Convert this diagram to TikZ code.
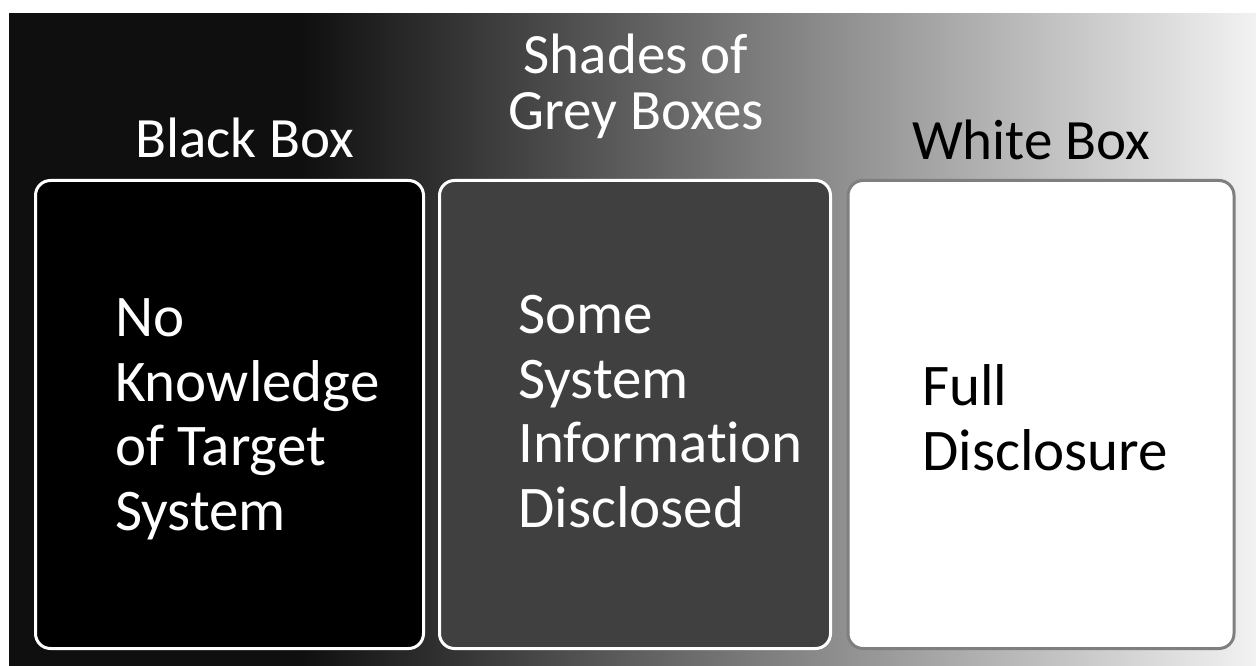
\documentclass[tikz,border=0pt]{standalone}
\usepackage{fontspec}
\setmainfont[Ligatures=NoCommon]{Carlito}
\definecolor{bgdark}{HTML}{0F0F0F}
\definecolor{bglight}{HTML}{F2F2F2}
\definecolor{greyfill}{HTML}{404040}
\definecolor{whiteborder}{HTML}{7F7F7F}
\begin{document}
\begin{tikzpicture}[x=1pt,y=-1pt,
  panel/.style={rectangle, rounded corners=15pt, line width=3pt, inner sep=0pt, minimum height=468pt},
  title/.style={font=\fontsize{57}{57}\selectfont, inner sep=0pt, anchor=base west},
  body/.style={font=\fontsize{59}{64.5}\selectfont, inner sep=0pt, anchor=base west, align=left}]
\useasboundingbox (0,0) rectangle (1256,666);
\fill[bgdark] (9,13) rectangle (300.5,666);
\shade[left color=bgdark, right color=bglight] (300,13) rectangle (1256,666);
\fill[white] (0,0) rectangle (1256,13);
\fill[white] (0,0) rectangle (9,666);
\node[panel, draw=white, fill=black, minimum width=388pt] (box1) at (229.5,414.5) {};
\node[panel, draw=white, fill=greyfill, minimum width=391pt] (box2) at (635,414.5) {};
\node[panel, draw=whiteborder, fill=white, minimum width=386pt] (box3) at (1041,414.5) {};
\node[title, text=white] (title1) at (135,158) {Black Box};
\node[title, text=white, anchor=base, align=center, font=\fontsize{57}{56}\selectfont] (title2) at (636,130) {Shades of\\Grey Boxes};
\node[title, text=black] (title3) at (912,160) {White Box};
\node[body, text=white] (text1) at (115,530) {No\\Knowledge\\of Target\\System};
\node[body, text=white] (text2) at (518,527) {Some\\System\\Information\\Disclosed};
\node[body, text=black] (text3) at (922,470) {Full\\Disclosure};
\end{tikzpicture}
\end{document}
